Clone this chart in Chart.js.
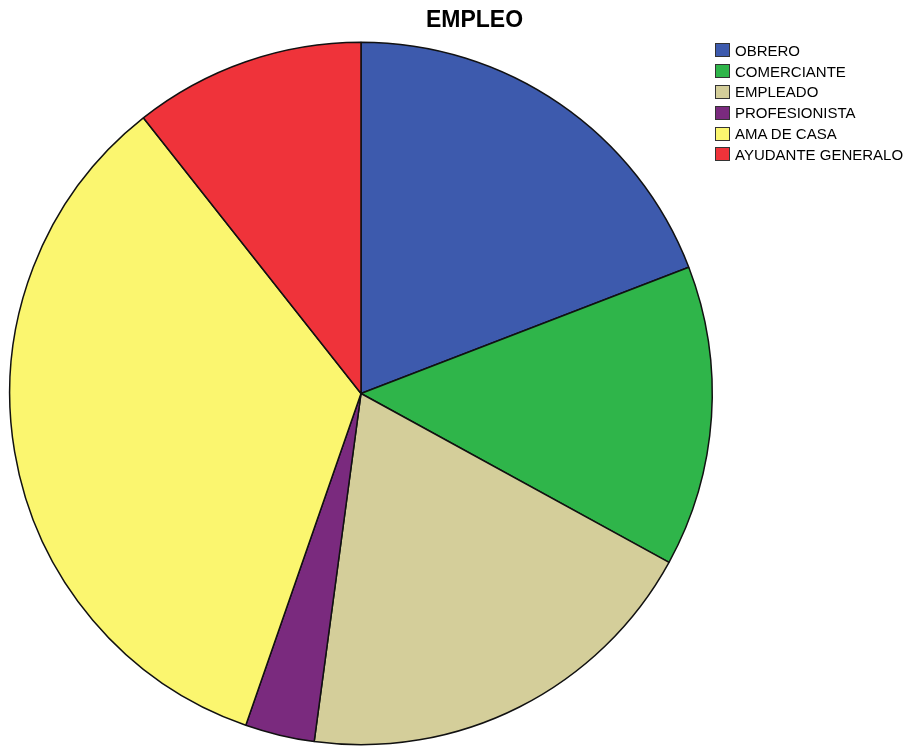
<!DOCTYPE html>
<html>
<head>
<meta charset="utf-8">
<script src="https://cdn.jsdelivr.net/npm/chart.js@4"></script>
<style>
  body { margin: 0; background: #fff; }
  #wrap { position: relative; width: 913px; height: 746px; }
  #title { position: absolute; left: 0; width: 949px; top: 6px; text-align: center;
           font: bold 23px "Liberation Sans", Arial, sans-serif; color: #000; }
  #legend { position: absolute; left: 715px; top: 40px; list-style: none; margin: 0; padding: 0;
            font: 15px "Liberation Sans", Arial, sans-serif; color: #000; }
  #legend li { height: 20.8px; display: flex; align-items: center; white-space: nowrap; }
  #legend span.box { width: 15px; height: 14px; border: 1px solid #333; margin-right: 5px; box-sizing: border-box; }
</style>
</head>
<body>
<div id="wrap">
  <canvas id="pieChart" width="913" height="746"></canvas>
  <div id="title">EMPLEO</div>
  <ul id="legend"></ul>
</div>
<script>
const categories = ['OBRERO', 'COMERCIANTE', 'EMPLEADO', 'PROFESIONISTA', 'AMA DE CASA', 'AYUDANTE GENERALO'];
const counts = [18, 13, 18, 3, 32, 10];
const colors = ['#3d5aad', '#2fb54a', '#d4ce9a', '#7a2a7e', '#fbf66f', '#ef333a'];

// legend built from the same arrays
const legendEl = document.getElementById('legend');
categories.forEach((name, i) => {
    legendEl.innerHTML += `<li><span class="box" style="background:${colors[i]}"></span>${name}</li>`;
});

const ctx = document.getElementById('pieChart').getContext('2d');
new Chart(ctx, {
    type: 'pie',
    data: {
        labels: categories,
        datasets: [{
            data: counts,
            backgroundColor: colors,
            borderColor: '#111',
            borderWidth: 1.5
        }]
    },
    options: {
        responsive: false,
        animation: false,
        layout: { padding: { top: 41, bottom: 0, left: 9, right: 200 } },
        plugins: {
            legend: { display: false },
            title: { display: false },
            tooltip: { enabled: false }
        }
    }
});
</script>
</body>
</html>
